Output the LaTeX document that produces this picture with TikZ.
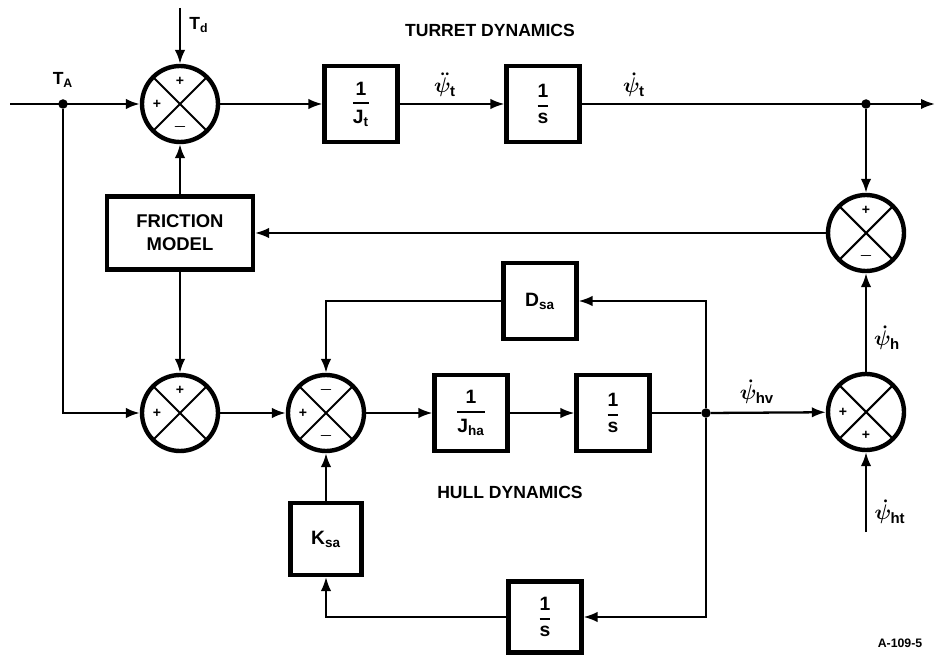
\documentclass[tikz,border=0pt]{standalone}
\usepackage{amsmath}
\usepackage{fontspec}
\setmainfont{Liberation Sans}
\usetikzlibrary{arrows.meta,calc}

% fraction inside a block, with a heavy bar
\newcommand{\blkfrac}[2]{$\genfrac{}{}{1.1pt}{0}{\mbox{#1}}{\mbox{#2}}$}
% psi rate labels, one math item each
\newcommand{\psd}[1]{$\dot\psi_{\mbox{\fontsize{8.5}{10}\selectfont #1}}$}
\newcommand{\psdd}[1]{$\ddot\psi_{\mbox{\fontsize{8.5}{10}\selectfont #1}}$}

\tikzset{
    blk/.style={draw, line width=2.3pt, minimum width=1.46cm, minimum height=1.52cm,
        inner sep=1pt, font=\bfseries\fontsize{11}{13}\selectfont},
    sumnode/.style={draw, circle, line width=2.5pt, minimum size=1.52cm, inner sep=0pt,
        path picture={
            \draw[line width=1.2pt] (path picture bounding box.south west) -- (path picture bounding box.north east)
                (path picture bounding box.north west) -- (path picture bounding box.south east);
        }},
    sgn/.style={inner sep=0pt, font=\bfseries\boldmath\footnotesize},
    dot/.style={circle, fill, inner sep=0pt, minimum size=0.19cm},
    lbl/.style={font=\bfseries\boldmath\fontsize{10}{12}\selectfont},
    psilbl/.style={inner sep=1pt, font=\bfseries\boldmath\fontsize{11.5}{13}\selectfont},
    wire/.style={line width=1.3pt},
    arr/.style={wire, -{Latex[length=2.8mm,width=2.1mm]}},
}

% signs round a summing junction: node, angle, sign
\newcommand{\sgnat}[3]{\node[sgn] at ($(#1)+(#2:0.46cm)$) {#3};}

\begin{document}
\begin{tikzpicture}[x=0.02cm, y=-0.02cm]
    \useasboundingbox (0,0) rectangle (936,658);

    % Turret path
    \coordinate (in) at (10,104);
    \node[dot] (ta) at (63,104) {};
    \coordinate (td) at (180,8);
    \node[sumnode] (s1) at (180,104) {};
    \node[blk] (jt) at (361,104) {\blkfrac{1}{J\textsubscript{t}}};
    \node[blk] (intt) at (543,104) {\blkfrac{1}{s}};
    \node[dot] (jtop) at (866,104) {};
    \coordinate (out) at (935,104);

    % Friction loop
    \node[sumnode] (s3) at (866,233) {};
    \node[blk, minimum width=2.92cm, minimum height=1.46cm, align=center,
        font=\bfseries\fontsize{10.5}{13}\selectfont] (fric) at (180,233) {FRICTION\\MODEL};

    % Hull path
    \node[sumnode] (s2) at (180,413) {};
    \node[sumnode] (s5) at (326,413) {};
    \node[blk] (jha) at (471,413) {\blkfrac{1}{J\textsubscript{ha}}};
    \node[blk] (inth) at (613,413) {\blkfrac{1}{s}};
    \node[dot] (jhv) at (706,413) {};
    \node[sumnode] (s4) at (866,412) {};
    \coordinate (ht) at (866,532);
    \node[blk] (dsa) at (540,301) {D\textsubscript{sa}};
    \node[blk, minimum height=1.42cm] (ints) at (545,617) {\blkfrac{1}{s}};
    \node[blk, minimum width=1.42cm, minimum height=1.44cm] (ksa) at (326,539) {K\textsubscript{sa}};

    % Connectors
    \draw[arr] (in) -- (s1);
    \draw[arr] (td) -- (s1);
    \draw[arr] (s1) -- (jt);
    \draw[arr] (jt) -- (intt);
    \draw[arr] (intt) -- (out);
    \draw[arr] (jtop) -- (s3);
    \draw[arr] (s3) -- (fric);
    \draw[arr] (fric) -- (s1);
    \draw[arr] (fric) -- (s2);
    \draw[arr] (ta) |- (s2);
    \draw[arr] (s2) -- (s5);
    \draw[arr] (s5) -- (jha);
    \draw[arr] (jha) -- (inth);
    \draw[wire] (inth) -- (jhv);
    \draw[arr] (jhv) -- (s4);
    \draw[arr] (jhv) |- (dsa);
    \draw[arr] (dsa) -| (s5);
    \draw[arr] (jhv) |- (ints);
    \draw[arr] (ints) -| (ksa);
    \draw[arr] (ksa) -- (s5);
    \draw[arr] (ht) -- (s4);
    \draw[arr] (s4) -- (s3);

    % Signs
    \sgnat{s1}{90}{+}
    \sgnat{s1}{180}{+}
    \sgnat{s1}{270}{$-$}
    \sgnat{s2}{90}{+}
    \sgnat{s2}{180}{+}
    \sgnat{s5}{90}{$-$}
    \sgnat{s5}{180}{+}
    \sgnat{s5}{270}{$-$}
    \sgnat{s3}{90}{+}
    \sgnat{s3}{270}{$-$}
    \sgnat{s4}{180}{+}
    \sgnat{s4}{270}{+}

    % Labels
    \node[lbl] (talbl) at (63,80) {T\textsubscript{A}};
    \node[lbl] (tdlbl) at (199,25) {T\textsubscript{d}};
    \node[lbl] (turret) at (490,30) {TURRET DYNAMICS};
    \node[psilbl] (psitt) at (445,85) {\psdd{t}};
    \node[psilbl] (psit) at (634,85) {\psd{t}};
    \node[psilbl] (psihv) at (757,392) {\psd{hv}};
    \node[psilbl] (psih) at (887,338) {\psd{h}};
    \node[psilbl] (psiht) at (890,512) {\psd{ht}};
    \node[lbl] (hull) at (510,492) {HULL DYNAMICS};
    \node[font=\bfseries\scriptsize] (fig) at (900,643) {A-109-5};
\end{tikzpicture}
\end{document}
